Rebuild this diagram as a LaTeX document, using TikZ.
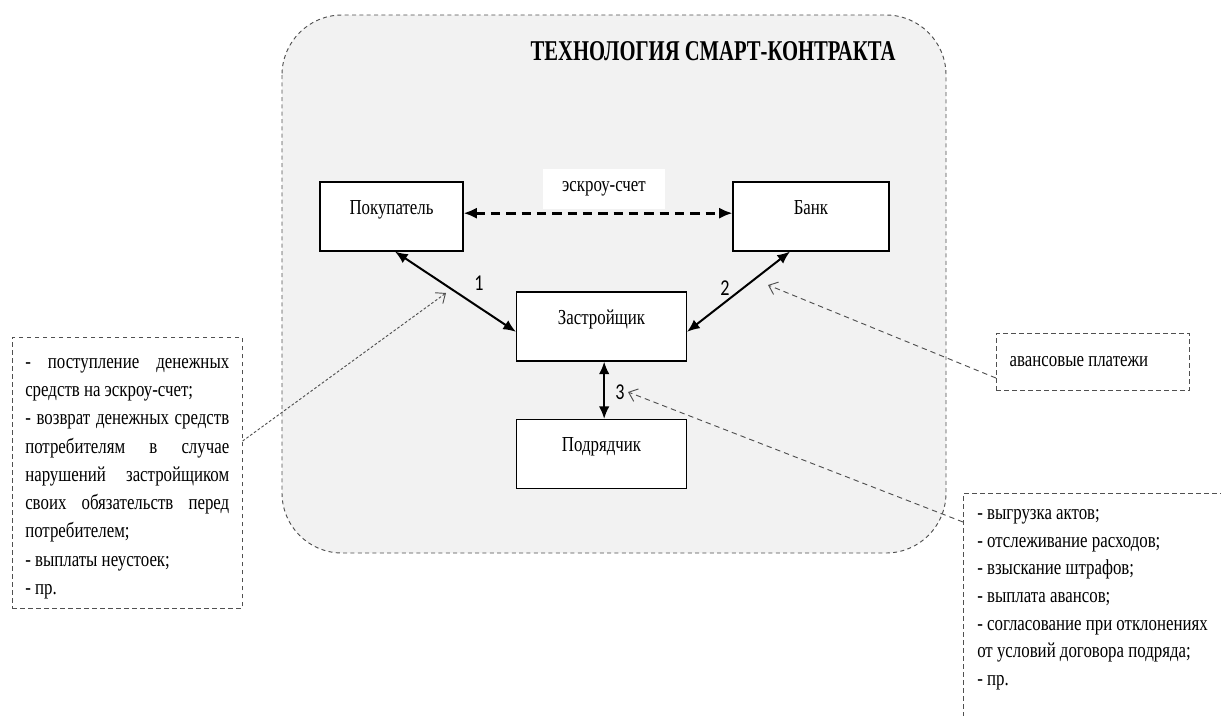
\documentclass[tikz,border=0pt]{standalone}
\usepackage{fontspec}
\setmainfont[FakeStretch=0.79]{Liberation Serif}
\newfontfamily\titlefont[FakeStretch=0.72]{Liberation Serif}
\newfontfamily\digitfont[FakeStretch=0.8]{Carlito}
\usetikzlibrary{arrows.meta}
\definecolor{panel}{HTML}{F2F2F2}
\definecolor{guide}{HTML}{505050}

\begin{document}
\begin{tikzpicture}[x=0.75pt,y=-0.75pt,
  every node/.style={font=\fontsize{16pt}{21.2pt}\selectfont},
  party/.style={draw=black, fill=white, line width=0.8pt, inner xsep=0pt, inner ysep=0pt,
    minimum height=51.75pt, text height=24pt, text depth=27.75pt},
  notebox/.style={draw=guide, dash pattern=on 3.5pt off 2.5pt, line width=0.7pt, fill=white},
  link/.style={line width=1.5pt, {Latex[length=9.5pt,width=8pt]}-{Latex[length=9.5pt,width=8pt]}},
  pointer/.style={draw=guide, line width=0.7pt, dash pattern=on 4pt off 3pt,
    -{Straight Barb[length=6pt,width=10pt]}},
  dotpointer/.style={pointer, dash pattern=on 2pt off 1.5pt},
  num/.style={font=\digitfont\fontsize{17pt}{17pt}\selectfont, inner sep=0pt}
]
\useasboundingbox (0,0) rectangle (1221,715);
\fill[white] (0,0) rectangle (1221,715);
\clip (0,0) rectangle (1221,715);

% rounded panel of the smart-contract technology
\draw[draw=guide, fill=panel, line width=0.7pt, dash pattern=on 3pt off 2.5pt,
  rounded corners=45pt] (282,15) rectangle (946,553);

\node[anchor=base, font=\titlefont\bfseries\fontsize{21.5pt}{21.5pt}\selectfont]
  (title) at (713,60.7) {ТЕХНОЛОГИЯ СМАРТ-КОНТРАКТА};

% parties
\node[party, minimum width=107.25pt] (buyer) at (391.5,216.5) {Покупатель};
\node[party, minimum width=117pt]    (bank)  at (811,216.5)   {Банк};
\node[party, minimum width=127.5pt]  (dev)   at (601.5,326.5) {Застройщик};
\node[party, minimum width=127.5pt]  (contr) at (601.5,454)   {Подрядчик};

% escrow link
\node[fill=white, minimum width=91.5pt, minimum height=30pt, inner sep=0pt]
  (escrow) at (604,189) {эскроу-счет};
\draw[line width=2pt, dash pattern=on 7pt off 4.5pt,
  {Latex[length=10pt,width=8.5pt]}-{Latex[length=10pt,width=8.5pt]}]
  ([yshift=2.5pt]buyer.east) -- ([yshift=2.5pt]bank.west);

% numbered links
\draw[link] ([xshift=2.6pt]buyer.south) -- ([yshift=-4pt]dev.west);
\draw[link] ([xshift=-15.75pt]bank.south) -- ([yshift=-4pt]dev.east);
\draw[link] ([xshift=2pt]dev.south) -- ([xshift=2pt]contr.north);
\node[num] (n1) at (479,283) {1};
\node[num] (n2) at (725,288) {2};
\node[num] (n3) at (620,392) {3};

% notes
\node[notebox, minimum width=172.5pt, minimum height=203.25pt, anchor=north west]
  (lbox) at (11.7,337) {};
\node[anchor=north west, inner sep=0pt, align=left]
  (ltext) at (25,358)
  {\makebox[153pt][s]{- поступление денежных}\\
   средств на эскроу-счет;\\
   \makebox[153pt][s]{- возврат денежных средств}\\
   \makebox[153pt][s]{потребителям в случае}\\
   \makebox[153pt][s]{нарушений застройщиком}\\
   \makebox[153pt][s]{своих обязательств перед}\\
   потребителем;\\
   - выплаты неустоек;\\
   - пр.};

\node[notebox, minimum width=145pt, minimum height=42.5pt, inner xsep=10pt]
  (adv) at (1093,362) {\makebox[125pt][l]{авансовые платежи}};

\node[notebox, minimum width=225pt, minimum height=190pt, anchor=north west]
  (rbox) at (963,493) {};
\node[anchor=north west, inner sep=0pt, align=left,
  font=\fontsize{16pt}{20.8pt}\selectfont] (rtext) at (977,509)
  {- выгрузка актов;\\
   - отслеживание расходов;\\
   - взыскание штрафов;\\
   - выплата авансов;\\
   - согласование при отклонениях\\
   от условий договора подряда;\\
   - пр.};

% pointers from the notes
\coordinate (t1) at (446,293);
\coordinate (t2) at (768,285);
\coordinate (t3) at (628,392);
\draw[dotpointer] ([yshift=-78pt]lbox.north east) -- (t1);
\draw[pointer] ([yshift=-12pt]adv.west) -- (t2);
\draw[pointer] ([yshift=-21.75pt]rbox.north west) -- (t3);
\end{tikzpicture}
\end{document}
